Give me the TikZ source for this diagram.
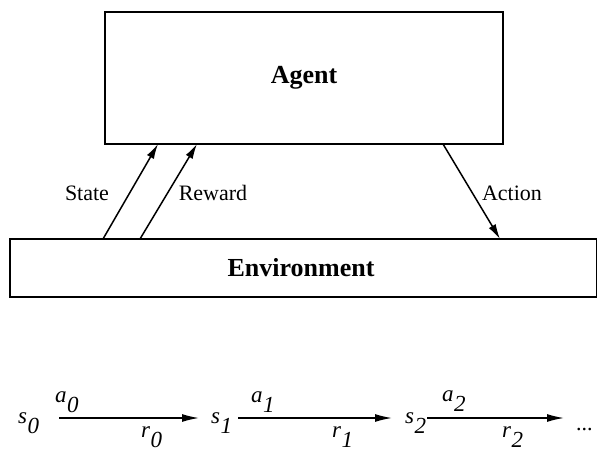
\documentclass[tikz,border=0pt]{standalone}
\usepackage{fontspec}
\setmainfont{Liberation Serif}
\usetikzlibrary{arrows.meta}
\newcommand{\lowsub}[1]{\kern0.5pt\smash{\raisebox{-10pt}{#1}}}
\begin{document}
\begin{tikzpicture}[x=1pt,y=-1pt,
  box/.style={draw, line width=1.9pt, inner sep=0pt},
  big/.style={font=\fontsize{26}{30}\selectfont\bfseries},
  lab/.style={font=\fontsize{22}{26}\selectfont, inner sep=0pt},
  sym/.style={font=\fontsize{23}{27}\selectfont\itshape, inner sep=0pt},
  stsym/.style={sym, anchor=west, text height=10pt, text depth=0pt},
  flow/.style={line width=1.5pt, -{Latex[length=15pt,width=8pt]}},
  seqflow/.style={line width=1.5pt, -{Latex[length=17pt,width=8pt]}},
]
\useasboundingbox (0,0) rectangle (597,452);
\fill[white] (0,0) rectangle (597,452);

% boxes
\node[box, big, minimum width=398pt, minimum height=132pt] (agent) at (304,78) {Agent};
\node[box, big, minimum width=587pt, minimum height=58pt] (env) at (303.5,268) {};
\node[big, inner sep=0pt] (envtext) at (301,268) {Environment};

% connector end points
\coordinate (stT) at (103,239);
\coordinate (stH) at (158,144);
\coordinate (rwT) at (140,239);
\coordinate (rwH) at (197,144);
\coordinate (acT) at (443,144);
\coordinate (acH) at (500,239);

\draw[flow] (stT) -- (stH);
\draw[flow] (rwT) -- (rwH);
\draw[flow] (acT) -- (acH);

\node[lab] (state) at (87,193) {State};
\node[lab] (reward) at (213,193) {Reward};
\node[lab] (action) at (512,193) {Action};

% sequence
\node[stsym] (s0) at (18,418) {s\lowsub{0}};
\node[stsym] (s1) at (211,418) {s\lowsub{1}};
\node[stsym] (s2) at (405,418) {s\lowsub{2}};
\node[lab, anchor=base west] (dots) at (576,430) {...};

\draw[seqflow, shorten <=20pt, shorten >=12pt] (s0.east) -- (s1.west);
\draw[seqflow, shorten <=6pt, shorten >=13pt] (s1.east) -- (s2.west);
\draw[seqflow, shorten <=1pt, shorten >=12pt] (s2.east) -- (dots.west |- s2.east);

\node[sym, anchor=base west] (a0) at (55,402) {a\lowsub{0}};
\node[sym, anchor=base west] (a1) at (251,402) {a\lowsub{1}};
\node[sym, anchor=base west] (a2) at (442,401) {a\lowsub{2}};
\node[sym, anchor=base west] (r0) at (141,437) {r\lowsub{0}};
\node[sym, anchor=base west] (r1) at (332,437) {r\lowsub{1}};
\node[sym, anchor=base west] (r2) at (502,437) {r\lowsub{2}};
\end{tikzpicture}
\end{document}
